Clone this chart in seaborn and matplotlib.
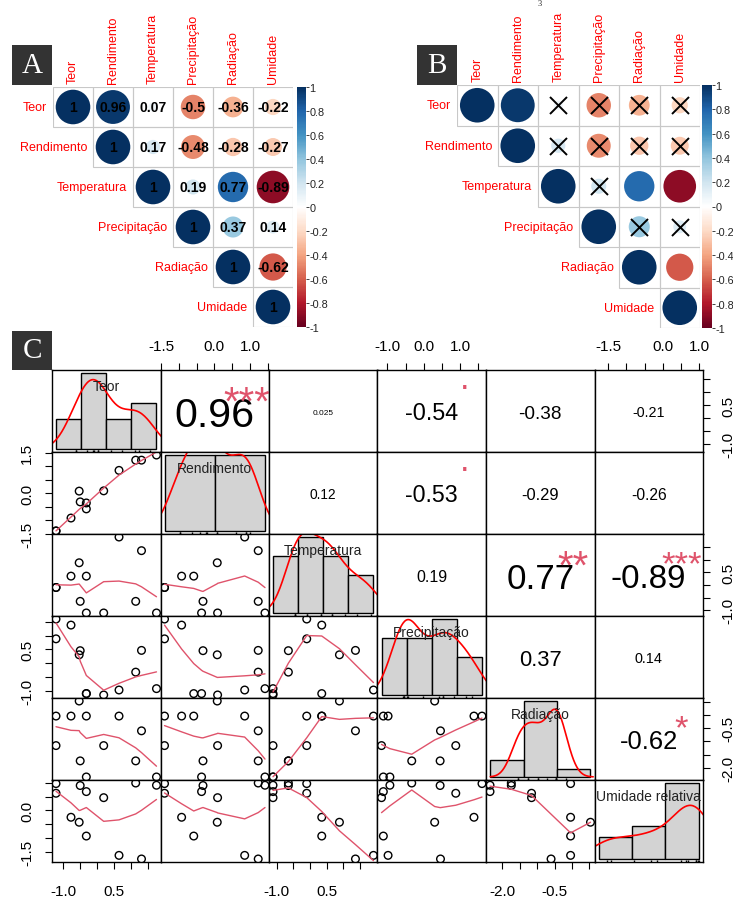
import numpy as np
import pandas as pd
import matplotlib
matplotlib.use("Agg")
import matplotlib.pyplot as plt
import seaborn as sns
from matplotlib.colors import LinearSegmentedColormap, Normalize
from matplotlib.cm import ScalarMappable
from matplotlib.patches import Rectangle
from matplotlib.textpath import TextToPath
from matplotlib.font_manager import FontProperties

sns.set_theme(style="white")
plt.rcParams['font.family'] = ['Liberation Sans', 'DejaVu Sans']

# ---------------- data ----------------
short_names = ["Teor", "Rendimento", "Temperatura", "Precipitação", "Radiação", "Umidade"]
pair_names = ["Teor", "Rendimento", "Temperatura", "Precipitação", "Radiação", "Umidade relativa"]

# panel A / B correlation matrix (rows)
r_teor = [1.00, 0.96, 0.07, -0.50, -0.36, -0.22]
r_rendimento = [0.96, 1.00, 0.17, -0.48, -0.28, -0.27]
r_temperatura = [0.07, 0.17, 1.00, 0.19, 0.77, -0.89]
r_precipitacao = [-0.50, -0.48, 0.19, 1.00, 0.37, 0.14]
r_radiacao = [-0.36, -0.28, 0.77, 0.37, 1.00, -0.62]
r_umidade = [-0.22, -0.27, -0.89, 0.14, -0.62, 1.00]
# panel B: non-significant pairs (crossed)
nonsig_rows = [1, 1, 1, 1, 2, 2, 2, 2, 3, 4, 4]
nonsig_cols = [3, 4, 5, 6, 3, 4, 5, 6, 4, 5, 6]

# panel C observations (standardised values, 12 observations)
teor = [-1.21, -1.21, -0.77, -0.53, -0.50, -0.32, -0.32, 0.19, 0.64, 1.13, 1.30, 1.74]
rendimento = [-1.40, -1.40, -0.92, 0.08, -0.32, -0.36, -0.58, 0.09, 0.85, 1.23, 1.23, 1.42]
temperatura = [-0.10, -0.10, 0.35, 0.88, -0.65, -1.11, 0.35, -1.11, 1.90, -0.65, 1.36, -1.11]
precipitacao = [1.60, 0.88, 1.38, 0.30, 0.45, -1.11, -1.11, -1.16, -0.98, -0.33, 0.46, -0.93]
radiacao = [-0.04, -1.16, -0.04, 0.53, -1.74, -2.35, -0.04, -1.16, -0.04, -1.74, -0.60, -2.35]
umidade = [0.97, 0.62, -0.25, -0.43, 0.90, 0.68, -0.93, 0.46, -1.63, 0.99, -1.76, 0.91]

# panel C upper-triangle coefficients (row-major) and significance codes
pc_labels = ["0.96", "0.025", "-0.54", "-0.38", "-0.21",
             "0.12", "-0.53", "-0.29", "-0.26",
             "0.19", "0.77", "-0.89",
             "0.37", "0.14",
             "-0.62"]
pc_signif = ["***", "", ".", "", "",
             "", ".", "", "",
             "", "**", "***",
             "", "",
             "*"]

# histogram breaks
breaks_teor = [-2, -1, 0, 1, 2]
breaks_rendimento = [-2, 0, 2]
breaks_temperatura = [-2, -1, 0, 1, 2]
breaks_precipitacao = [-2, -1, 0, 1, 2]
breaks_radiacao = [-4, -2, 0, 2]
breaks_umidade = [-2, -1, 0, 1]

# axis ticks and shown labels
ticks_teor = [-1.0, -0.5, 0.0, 0.5, 1.0, 1.5]
ticks_rendimento = [-1.5, -1.0, -0.5, 0.0, 0.5, 1.0, 1.5]
ticks_temperatura = [-1.0, -0.5, 0.0, 0.5, 1.0, 1.5]
ticks_precipitacao = [-1.0, -0.5, 0.0, 0.5, 1.0, 1.5]
ticks_radiacao = [-2.0, -1.5, -1.0, -0.5, 0.0, 0.5]
ticks_umidade = [-1.5, -1.0, -0.5, 0.0, 0.5, 1.0]
hlab_teor, vlab_teor = [-1.0, 0.5], [-1.0, 0.5]
hlab_rendimento, vlab_rendimento = [-1.5, 0.0, 1.0], [-1.5, 0.0, 1.5]
hlab_temperatura, vlab_temperatura = [-1.0, 0.5], [-1.0, 0.5]
hlab_precipitacao, vlab_precipitacao = [-1.0, 0.0, 1.0], [-1.0, 0.5]
hlab_radiacao, vlab_radiacao = [-2.0, -0.5], [-2.0, -0.5]
hlab_umidade, vlab_umidade = [-1.5, 0.0, 1.0], [-1.5, 0.0]

# ---------------- helpers ----------------
W, H = 733, 904
fig = plt.figure(figsize=(W / 100, H / 100), dpi=100)
fig.patch.set_facecolor("white")


def add_ax(x0, y0, x1, y1):
    return fig.add_axes([x0 / W, 1 - y1 / H, (x1 - x0) / W, (y1 - y0) / H])


def lowess(x, y, f=2 / 3, iters=3):
    x = np.asarray(x, float)
    y = np.asarray(y, float)
    order = np.argsort(x, kind="mergesort")
    xs, ys = x[order], y[order]
    n = len(xs)
    ns = max(min(int(round(f * n)), n), 2)
    rw = np.ones(n)
    fit = np.zeros(n)
    for it in range(iters + 1):
        for i in range(n):
            d = np.abs(xs - xs[i])
            h = np.sort(d)[ns - 1]
            if h <= 0:
                w = (d <= 0).astype(float)
            else:
                u = d / h
                w = np.where(u <= 0.001, 1.0, np.where(u <= 0.999, (1 - u ** 3) ** 3, 0.0))
            w = w * rw
            sw = w.sum()
            if sw <= 0:
                fit[i] = ys[i]
                continue
            w = w / sw
            xm = np.sum(w * xs)
            vx = np.sum(w * (xs - xm) ** 2)
            if np.sqrt(vx) > 0.001 * (xs[-1] - xs[0]):
                b = np.sum(w * (xs - xm) * ys) / vx
                fit[i] = np.sum(w * ys) + b * (xs[i] - xm)
            else:
                fit[i] = np.sum(w * ys)
        if it == iters:
            break
        res = ys - fit
        cmad = 6 * np.median(np.abs(res))
        if cmad < 1e-7 * np.mean(np.abs(ys)):
            break
        u = np.abs(res) / cmad
        rw = np.where(u <= 0.001, 1.0, np.where(u <= 0.999, (1 - u ** 2) ** 2, 0.0))
    return xs, fit


def letter_box(x0, y0, x1, y1, letter):
    fig.add_artist(Rectangle((x0 / W, 1 - y1 / H), (x1 - x0) / W, (y1 - y0) / H,
                             transform=fig.transFigure, facecolor="#333333",
                             edgecolor="none"))
    fig.text((x0 + x1) / 2 / W, 1 - (y0 + y1) / 2 / H, letter, color="white",
             fontsize=21, family="Liberation Serif", ha="center", va="center")


cmap = LinearSegmentedColormap.from_list(
    "corrRdBu", ["#67001F", "#B2182B", "#D6604D", "#F4A582", "#FDDBC7", "#FFFFFF",
                 "#D1E5F0", "#92C5DE", "#4393C3", "#2166AC", "#053061"], N=200)

R = [r_teor, r_rendimento, r_temperatura, r_precipitacao, r_radiacao, r_umidade]


def corr_panel(x0, y0, cell, cbx0, cbx1, numbers, crosses):
    ax = add_ax(x0, y0, x0 + 6 * cell, y0 + 6 * cell)
    rows = []
    for i in range(6):
        for j in range(i, 6):
            rows.append(dict(row=i + 1, col=j + 1, r=R[i][j]))
    df = pd.DataFrame(rows)
    df["absr"] = df["r"].abs()
    for _, rr in df.iterrows():
        ax.add_patch(Rectangle((rr["col"] - 0.5, rr["row"] - 0.5), 1, 1, fill=False,
                               edgecolor="#C8C8C8", lw=0.8, zorder=1))
    sns.scatterplot(data=df, x="col", y="row", hue="r", palette=cmap, hue_norm=(-1, 1),
                    size="absr", sizes=(0, 620), size_norm=(0, 1), legend=False,
                    ax=ax, linewidth=0, zorder=2)
    if numbers:
        for _, rr in df.iterrows():
            ax.text(rr["col"], rr["row"], format(round(rr["r"], 2), "g"), ha="center",
                    va="center", fontsize=10, fontweight="bold", color="black", zorder=3)
    if crosses:
        dfx = pd.DataFrame(dict(row=nonsig_rows, col=nonsig_cols))
        sns.scatterplot(data=dfx, x="col", y="row", marker="x", s=150, color="black",
                        linewidth=1.4, legend=False, ax=ax, zorder=3)
    for j in range(6):
        ax.annotate(short_names[j], xy=(j + 1, 0.5), xytext=(0, 3), textcoords="offset points",
                    rotation=90, ha="center", va="bottom", color="red", fontsize=9,
                    annotation_clip=False)
        ax.annotate(short_names[j], xy=(j + 0.5, j + 1), xytext=(-4, 0),
                    textcoords="offset points", ha="right", va="center", color="red",
                    fontsize=9, annotation_clip=False)
    ax.set_xlim(0.5, 6.5)
    ax.set_ylim(6.5, 0.5)
    ax.axis("off")
    cax = add_ax(cbx0, y0, cbx1, y0 + 6 * cell)
    tv = np.linspace(-1, 1, 11)
    cb = fig.colorbar(ScalarMappable(norm=Normalize(-1, 1), cmap=cmap), cax=cax, ticks=tv)
    cb.ax.set_yticklabels([format(round(v, 1) + 0.0, "g") for v in tv])
    cb.outline.set_visible(False)
    cax.tick_params(length=2, width=0.6, labelsize=7.8, pad=0.5, colors="#222222")


# ---------------- panel A and B ----------------
corr_panel(53, 88, 40, 297, 306, numbers=True, crosses=False)
corr_panel(457, 86, 40.5, 702, 712, numbers=False, crosses=True)
letter_box(12, 46, 52, 86, "A")
letter_box(417, 46, 457, 86, "B")
fig.text(540 / W, 1 - 4 / H, "3", fontsize=6, family="Liberation Serif", ha="center",
         va="center")

# ---------------- panel C ----------------
letter_box(12, 332, 52, 371, "C")
arrs = [np.array(a, float) for a in [teor, rendimento, temperatura, precipitacao, radiacao, umidade]]
breaks = [breaks_teor, breaks_rendimento, breaks_temperatura, breaks_precipitacao,
          breaks_radiacao, breaks_umidade]
ticks = [ticks_teor, ticks_rendimento, ticks_temperatura, ticks_precipitacao, ticks_radiacao,
         ticks_umidade]
hlabs = [hlab_teor, hlab_rendimento, hlab_temperatura, hlab_precipitacao, hlab_radiacao,
         hlab_umidade]
vlabs = [vlab_teor, vlab_rendimento, vlab_temperatura, vlab_precipitacao, vlab_radiacao,
         vlab_umidade]
ranges = []
for a in arrs:
    lo, hi = a.min(), a.max()
    s = hi - lo
    ranges.append((lo - 0.04 * s, hi + 0.04 * s))

CX0, CY0, CW, CH = 52, 371, 108.5, 82
ttp = TextToPath()
fp10 = FontProperties(family="Liberation Sans", size=10)
STAR = "#DF536B"


def fmt(v):
    return f"{v + 0.0:.1f}"


def lab_list(tk, shown):
    return [fmt(v) if any(abs(v - s) < 1e-9 for s in shown) else "" for v in tk]


k = 0
for i in range(6):
    for j in range(6):
        ax = add_ax(CX0 + j * CW, CY0 + i * CH, CX0 + (j + 1) * CW, CY0 + (i + 1) * CH)
        if i == j:
            a = arrs[i]
            e = breaks[i]
            sns.histplot(x=a, bins=e, stat="density", ax=ax, color="#D3D3D3",
                         edgecolor="black", linewidth=1.0, alpha=1)
            sd = a.std(ddof=1)
            iqr = np.subtract(*np.percentile(a, [75, 25]))
            bw = 0.9 * min(sd, iqr / 1.34) * len(a) ** -0.2
            sns.kdeplot(x=a, bw_method=bw / sd, cut=3, ax=ax, color="red", lw=1.2)
            sns.rugplot(x=a, height=0.03, ax=ax, color="black", lw=0.8)
            dens, _ = np.histogram(a, bins=e, density=True)
            M = dens.max()
            span = e[-1] - e[0]
            ax.set_xlim(e[0] - 0.04 * span, e[-1] + 0.04 * span)
            ax.set_ylim(-0.04 * M, 1.04 * M)
            ax.text(0.5, 0.80, pair_names[i], transform=ax.transAxes, ha="center",
                    va="center", fontsize=10, color="#222222", zorder=5)
        elif i > j:
            sns.scatterplot(x=arrs[j], y=arrs[i], ax=ax, s=30, legend=False)
            coll = ax.collections[-1]
            coll.set_facecolor("none")
            coll.set_edgecolor("black")
            coll.set_linewidth(1.0)
            lx, ly = lowess(arrs[j], arrs[i])
            sns.lineplot(x=lx, y=ly, ax=ax, color=STAR, lw=1.0, estimator=None,
                         sort=False, legend=False)
            ax.set_xlim(ranges[j])
            ax.set_ylim(ranges[i])
        else:
            txt = pc_labels[k]
            sig = pc_signif[k]
            k += 1
            r = float(txt)
            w10 = ttp.get_text_width_height_descent(txt, fp10, ismath=False)[0] * 1.05
            fs_full = 10 * (0.8 * CW * 0.72) / w10
            fs_txt = fs_full * (abs(r) + 0.3) / 1.3
            ax.annotate(txt, xy=(0.5, 0.5), xycoords="axes fraction",
                        xytext=(0, -0.358 * fs_txt), textcoords="offset points",
                        ha="center", va="baseline", fontsize=fs_txt, color="black")
            if sig:
                off = 0.63 if "*" in sig else 0.05
                ax.annotate(sig, xy=(0.8, 0.8), xycoords="axes fraction",
                            xytext=(0, -off * fs_full), textcoords="offset points",
                            ha="center", va="baseline", fontsize=fs_full * 0.95, color=STAR)
            ax.set_xlim(ranges[j])
            ax.set_ylim(ranges[i])
        ax.set_xlabel("")
        ax.set_ylabel("")
        ax.set_xticks([])
        ax.set_yticks([])
        for sp in ax.spines.values():
            sp.set_color("black")
            sp.set_linewidth(1.0)
        tkw = dict(direction="out", length=5, width=0.8, colors="black", labelsize=11)
        if i == 0 and j % 2 == 1:
            ax.set_xticks(ticks[j])
            ax.set_xticklabels(lab_list(ticks[j], hlabs[j]))
            ax.xaxis.tick_top()
            ax.tick_params(axis="x", top=True, bottom=False, labeltop=True,
                           labelbottom=False, pad=7.5, **tkw)
        if i == 5 and j % 2 == 0:
            ax.set_xticks(ticks[j])
            ax.set_xticklabels(lab_list(ticks[j], hlabs[j]))
            ax.tick_params(axis="x", bottom=True, labelbottom=True, pad=11, **tkw)
        if j == 0 and i % 2 == 1:
            ax.set_yticks(ticks[i])
            ax.set_yticklabels(lab_list(ticks[i], vlabs[i]), rotation=90, va="center")
            ax.tick_params(axis="y", left=True, labelleft=True, pad=8, **tkw)
        if j == 5 and i % 2 == 0:
            ax.set_yticks(ticks[i])
            ax.set_yticklabels(lab_list(ticks[i], vlabs[i]), rotation=90, va="center")
            ax.yaxis.tick_right()
            ax.tick_params(axis="y", right=True, left=False, labelright=True,
                           labelleft=False, pad=8, **tkw)

fig.savefig("out.png", dpi=100)
